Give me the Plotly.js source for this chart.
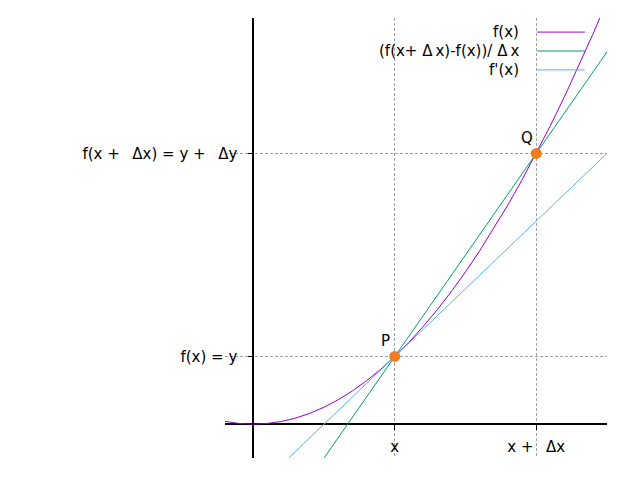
<!DOCTYPE html>
<html><head><meta charset="utf-8">
<script src="https://cdn.plot.ly/plotly-3.0.1.min.js"></script>
<style>html,body{margin:0;padding:0;background:#fff}</style>
</head><body><div id="chart" style="width:640px;height:480px"></div>
<script>
const seriesNames = ["f(x)", "(f(x+\u00A0Δ\u2009x)-f(x))/\u00A0Δ\u2009x", "f'(x)"];
const seriesColors = ["#9400d3", "#009e73", "#56b4e9"];
// f(x) curve
const curveX = [-0.2,-0.1,0,0.1,0.2,0.3,0.4,0.5,0.6,0.7,0.8,0.9,1,1.1,1.2,1.3,1.4,1.5,1.6,1.7,1.8,1.9,2,2.1,2.2,2.3,2.4,2.5];
const curveY = [0.04,0.01,0,0.01,0.04,0.09,0.16,0.25,0.36,0.49,0.64,0.81,1,1.21,1.44,1.69,1.96,2.25,2.56,2.89,3.24,3.61,4,4.41,4.84,5.29,5.76,6.25];
// secant through P and Q
const secantX = [0.5, 2.5];
const secantY = [-0.5, 5.5];
// tangent at P
const tangentX = [0.25, 2.5];
const tangentY = [-0.5, 4];
// marked points
const pointX = [1, 2];
const pointY = [1, 4];
const pointLabels = ["P", "Q"];
// ticks
const xTickVals = [1, 2];
const xTickText = ["x", "x +\u00A0\u2009 Δx"];
const yTickVals = [1, 4];
const yTickText = ["f(x) = y", "f(x +\u00A0\u2009 Δx) = y +\u00A0\u2009 Δy"];

const font = {family: "DejaVu Sans, sans-serif", size: 15, color: "#000"};
const xRange = [-0.2, 2.5], yRange = [-0.5, 6];

const traces = [
  {x: curveX, y: curveY, mode: "lines", line: {color: seriesColors[0], width: 1}, showlegend: false, hoverinfo: "skip"},
  {x: secantX, y: secantY, mode: "lines", line: {color: seriesColors[1], width: 1}, showlegend: false, hoverinfo: "skip"},
  {x: tangentX, y: tangentY, mode: "lines", line: {color: seriesColors[2], width: 1}, showlegend: false, hoverinfo: "skip"},
  {x: pointX, y: pointY, mode: "markers", marker: {color: "#f07c22", size: 11}, showlegend: false, hoverinfo: "skip"}
];

const legendY = [0.968, 0.925, 0.882];
const annotations = seriesNames.map((n, i) => ({
  text: n, xref: "paper", yref: "paper", x: 0.775, y: legendY[i],
  xanchor: "right", yanchor: "middle", showarrow: false, font: font
}));
pointLabels.forEach((t, i) => annotations.push({
  text: t, xref: "x", yref: "y", x: pointX[i], y: pointY[i],
  xanchor: "center", yanchor: "bottom", xshift: -9, yshift: 4, showarrow: false, font: font
}));
const shapes = seriesNames.map((n, i) => ({
  type: "line", xref: "paper", yref: "paper", x0: 0.817, x1: 0.942, y0: legendY[i], y1: legendY[i],
  line: {color: seriesColors[i], width: 1}
}));

const layout = {
  width: 640, height: 480,
  margin: {l: 225, r: 33, t: 18, b: 22, pad: 0},
  paper_bgcolor: "#fff", plot_bgcolor: "#fff",
  font: font,
  showlegend: false,
  xaxis: {
    range: xRange, anchor: "free", position: (0 - yRange[0]) / (yRange[1] - yRange[0]),
    tickmode: "array", tickvals: xTickVals, ticktext: xTickText,
    showgrid: true, gridcolor: "#a0a0a0", griddash: "3px,2px", gridwidth: 1,
    zeroline: true, zerolinecolor: "#000", zerolinewidth: 2,
    showline: false, ticks: "outside", ticklen: 5, tickcolor: "#000", tickwidth: 1,
    ticklabelstandoff: 4,
    tickfont: font, fixedrange: true
  },
  yaxis: {
    range: yRange, anchor: "free", position: (0 - xRange[0]) / (xRange[1] - xRange[0]),
    tickmode: "array", tickvals: yTickVals, ticktext: yTickText,
    showgrid: true, gridcolor: "#a0a0a0", griddash: "3px,2px", gridwidth: 1,
    zeroline: true, zerolinecolor: "#000", zerolinewidth: 2,
    showline: false, ticks: "outside", ticklen: 5, tickcolor: "#000", tickwidth: 1,
    ticklabelstandoff: 8,
    tickfont: font, fixedrange: true
  },
  annotations: annotations,
  shapes: shapes
};

Plotly.newPlot("chart", traces, layout, {staticPlot: true, displayModeBar: false});
</script>
</body></html>
